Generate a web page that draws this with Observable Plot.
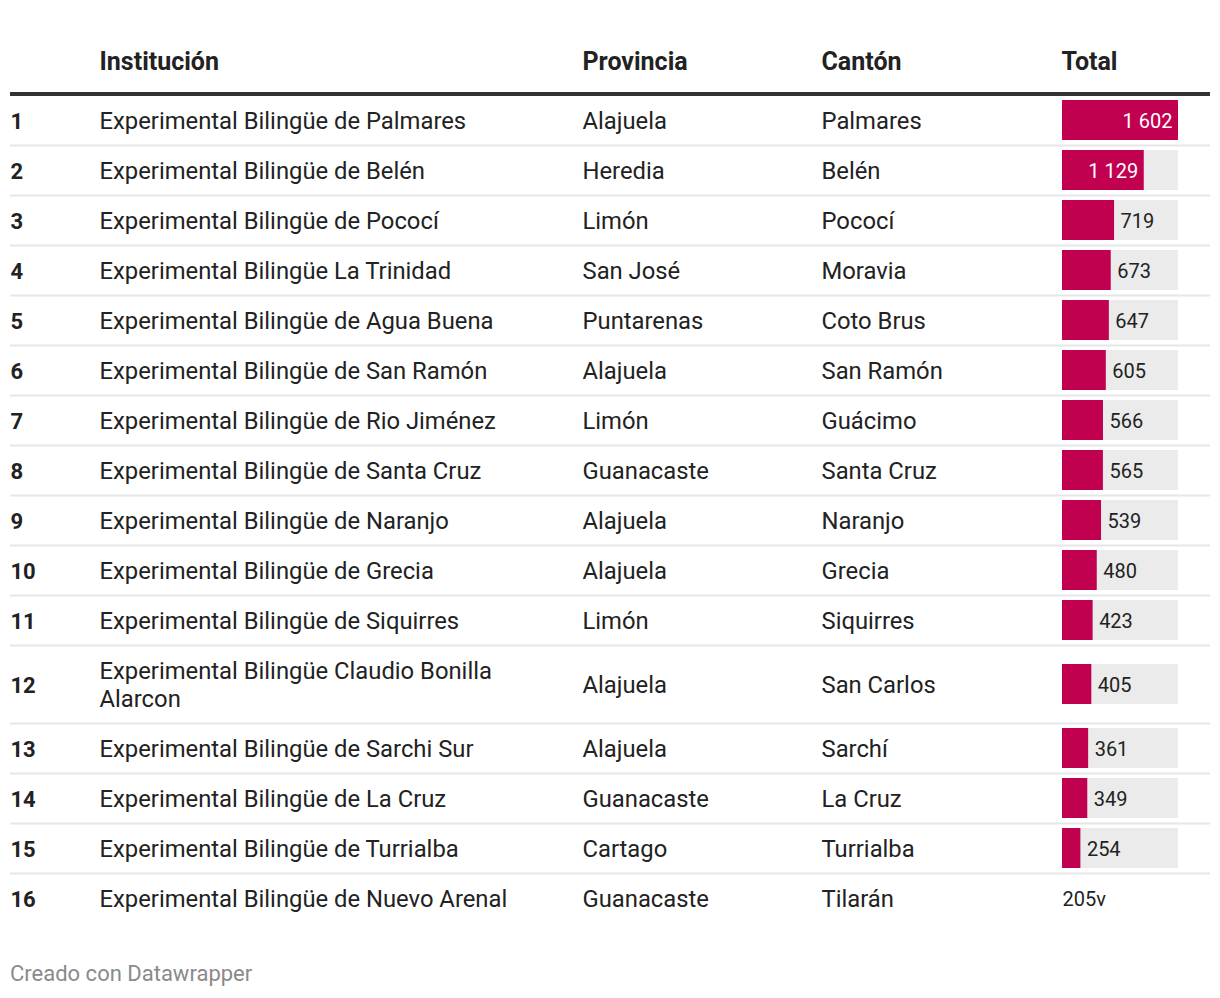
<!DOCTYPE html>
<html>
<head>
<meta charset="utf-8">
<script src="https://cdn.jsdelivr.net/npm/d3@7"></script>
<script src="https://cdn.jsdelivr.net/npm/@observablehq/plot@0.6"></script>
<style>
  html, body { margin: 0; padding: 0; background: #fff; }
  body { width: 1220px; font-family: Roboto, sans-serif; }
  #chart svg { display: block; }
  #footer { margin: 22px 0 0 10px; font-size: 22px; line-height: 24px; color: #8a8a8a; }
</style>
</head>
<body>
<div id="chart"></div>
<div id="footer">Creado con Datawrapper</div>
<script>
const headers = ["Institución", "Provincia", "Cantón", "Total"];
const instituciones = [
  "Experimental Bilingüe de Palmares",
  "Experimental Bilingüe de Belén",
  "Experimental Bilingüe de Pococí",
  "Experimental Bilingüe La Trinidad",
  "Experimental Bilingüe de Agua Buena",
  "Experimental Bilingüe de San Ramón",
  "Experimental Bilingüe de Rio Jiménez",
  "Experimental Bilingüe de Santa Cruz",
  "Experimental Bilingüe de Naranjo",
  "Experimental Bilingüe de Grecia",
  "Experimental Bilingüe de Siquirres",
  "Experimental Bilingüe Claudio Bonilla Alarcon",
  "Experimental Bilingüe de Sarchi Sur",
  "Experimental Bilingüe de La Cruz",
  "Experimental Bilingüe de Turrialba",
  "Experimental Bilingüe de Nuevo Arenal"
];
const provincias = ["Alajuela", "Heredia", "Limón", "San José", "Puntarenas", "Alajuela", "Limón", "Guanacaste",
  "Alajuela", "Alajuela", "Limón", "Alajuela", "Alajuela", "Guanacaste", "Cartago", "Guanacaste"];
const cantones = ["Palmares", "Belén", "Pococí", "Moravia", "Coto Brus", "San Ramón", "Guácimo", "Santa Cruz",
  "Naranjo", "Grecia", "Siquirres", "San Carlos", "Sarchí", "La Cruz", "Turrialba", "Tilarán"];
const totales = ["1602", "1129", "719", "673", "647", "605", "566", "565", "539", "480", "423", "405",
  "361", "349", "254", "205v"];

// --- layout helpers ---
const FONT = "Roboto, sans-serif";
const BODY = 23.8;
const ctx = document.createElement("canvas").getContext("2d");
ctx.font = BODY + "px Roboto";
function wrap(text, maxW) {
  const words = text.split(" ");
  const out = [];
  let line = "";
  for (const w of words) {
    const t = line ? line + " " + w : w;
    if (line && ctx.measureText(t).width > maxW) { out.push(line); line = w; }
    else line = t;
  }
  out.push(line);
  return out;
}
const fmt = d3.formatLocale({decimal: ",", thousands: " ", grouping: [3], currency: ["", ""]}).format(",d");

let cursor = 0;
const rows = instituciones.map((name, i) => {
  const lines = wrap(name, 450);
  const h = 1 + (lines.length - 1) * 28 / 50;
  const value = Number(totales[i]);
  const r = {
    rank: String(i + 1),
    inst: lines.join("\n"),
    prov: provincias[i],
    cant: cantones[i],
    value,
    label: Number.isFinite(value) ? fmt(value) : totales[i],
    rowTop: cursor, bottom: cursor + h, mid: cursor + h / 2
  };
  cursor += h;
  return r;
});
const units = cursor;
const maxV = d3.max(rows, d => d.value);
const numeric = rows.filter(d => Number.isFinite(d.value));
const inside = numeric.filter(d => d.value / maxV > 0.6);
const outside = numeric.filter(d => d.value / maxV <= 0.6);
const nonNum = rows.filter(d => !Number.isFinite(d.value));

const textColor = "#222";
const col = (field, dx, extra = {}) => Plot.text(rows, {
  text: field, y: "mid", frameAnchor: "left", dx, textAnchor: "start",
  fontSize: BODY, fill: textColor, lineHeight: 28 / BODY, ...extra
});
const head = (label, dx) => Plot.text([label], {
  text: d => d, y: -0.68, frameAnchor: "left", dx, textAnchor: "start",
  fontSize: 25, fontWeight: "bold", fill: textColor
});

const chart = Plot.plot({
  width: 1220,
  height: 940,
  margin: 0,
  style: {fontFamily: FONT, background: "#fff"},
  x: {domain: [0, maxV], range: [1062, 1178], axis: null},
  y: {domain: [0, units], range: [95, 95 + units * 50], axis: null},
  marks: [
    Plot.ruleY(rows.slice(0, -1), {y: "bottom", stroke: "#e6e6e6", strokeWidth: 2, insetLeft: 10, insetRight: 10}),
    Plot.ruleY([0], {stroke: "#333", strokeWidth: 4, insetLeft: 10, insetRight: 10, dy: -1.5}),
    Plot.rect(numeric, {x1: 0, x2: maxV, y1: d => d.mid - 0.4, y2: d => d.mid + 0.4, fill: "#ebebeb"}),
    Plot.rect(numeric, {x1: 0, x2: "value", y1: d => d.mid - 0.4, y2: d => d.mid + 0.4, fill: "#c10050"}),
    Plot.text(inside, {x: "value", y: "mid", text: "label", textAnchor: "end", dx: -6, dy: 1, fill: "#fff", fontSize: 20}),
    Plot.text(outside, {x: "value", y: "mid", text: "label", textAnchor: "start", dx: 6, dy: 1, fill: "#222", fontSize: 20}),
    Plot.text(nonNum, {x: 0, y: "mid", text: "label", textAnchor: "start", dy: 1, fill: "#222", fontSize: 20}),
    col("rank", 10, {fontWeight: "bold", fontSize: 22}),
    col("inst", 99),
    col("prov", 582),
    col("cant", 821),
    head(headers[0], 99),
    head(headers[1], 582),
    head(headers[2], 821),
    head(headers[3], 1061)
  ]
});
document.getElementById("chart").appendChild(chart);
</script>
</body>
</html>
